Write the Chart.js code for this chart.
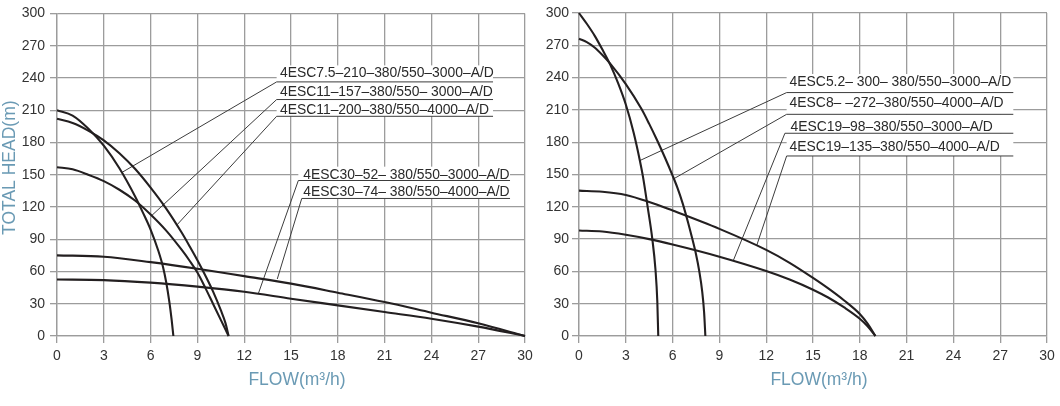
<!DOCTYPE html>
<html><head><meta charset="utf-8">
<script src="https://cdn.jsdelivr.net/npm/chart.js@4/dist/chart.umd.min.js"></script>
<style>
html,body{margin:0;padding:0;background:#fff;}
#wrap{position:relative;width:1060px;height:406px;overflow:hidden;}
canvas{display:block;}
</style></head><body>
<div id="wrap">
<div style="position:absolute;left:0;top:0;width:540px;height:406px"><canvas id="c1" width="540" height="406"></canvas></div>
<div style="position:absolute;left:540px;top:0;width:520px;height:406px"><canvas id="c2" width="520" height="406"></canvas></div>
</div>
<script>
// ---- tick labels ----
const xTicks = [0,3,6,9,12,15,18,21,24,27,30];
const yTicks = [0,30,60,90,120,150,180,210,240,270,300];
const xTitle = 'FLOW(m³/h)';
const yTitle = 'TOTAL HEAD(m)';

// ---- left chart series ----
const leftLabels = ['4ESC7.5–210–380/550–3000–A/D','4ESC11–157–380/550– 3000–A/D','4ESC11–200–380/550–4000–A/D','4ESC30–52– 380/550–3000–A/D','4ESC30–74– 380/550–4000–A/D'];
const flow_75_210 = [0,1,2,3,4,5,5.5,6,6.5,6.8,7,7.2,7.35,7.46];
const head_75_210 = [210,205,193,177,156,130,115,99,79,64,50,32,15,0];
const flow_11_157 = [0,1,2,3,4,5,6,7,8,8.5,9,9.5,10,10.5,11];
const head_11_157 = [157,155,150,144,136,126,113,98,80,70,59,45,30,15,0];
const flow_11_200 = [0,1,2,3,4,5,6,7,8,8.5,9,9.5,10,10.5,10.8,11];
const head_11_200 = [202,198,191,182,170,155.5,138,118.5,96,83.5,70.5,56.5,41.5,24,12,0];
const flow_30 = [0,3,6,9,12,15,18,21,24,27,30];
const head_30_52 = [52.5,52,49.6,45.9,41.2,34.7,28.5,22.3,16.1,8.7,0];
const head_30_74 = [75,73.7,68.7,62.6,55.7,48.7,40.3,31.6,21.7,11.8,0];

// ---- right chart series ----
const rightLabels = ['4ESC5.2– 300– 380/550–3000–A/D','4ESC8– –272–380/550–4000–A/D','4ESC19–98–380/550–3000–A/D','4ESC19–135–380/550–4000–A/D'];
const flow_52_300 = [0,0.5,1,1.5,2,2.5,3,3.5,3.9,4.1,4.4,4.7,4.9,5.02,5.08];
const head_52_300 = [300,290,279,266,252,235,215,189,163,148,120,90,62,32,0];
const flow_8_272 = [0,0.5,1,1.5,2,3,4,4.5,5,5.5,6,6.3,6.65,7,7.25,7.5,7.7,7.9,8.02,8.1];
const head_8_272 = [276,273,268,261,253,234,211,197,182,166,149,138,123,105,91,76,61,41,22,0];
const flow_19 = [0,1.5,3,4.5,6,9,12,13.5,15,16,17,18,18.5,19];
const head_19_98 = [98,97,94,90,85,73.7,60.4,52.5,43,35.5,26.5,16,9,0];
const head_19_135 = [135,134,131,124.5,116.5,99.5,80,68,54,44,33,20.5,11.5,0];

// ---- annotation anchors (data units) ----
const leftAnchors = [
  {tx:14.29, ty:240.5, ux0:14.08, ux1:27.95, uy:236.3, px:4.15, py:152, first:true},
  {tx:14.29, ty:222.9, ux0:14.08, ux1:27.95, uy:219.9, px:6.07, py:112},
  {tx:14.29, ty:206.8, ux0:14.08, ux1:27.95, uy:204.3, px:7.67, py:103},
  {tx:15.79, ty:146.3, ux0:15.47, ux1:29.04, uy:144.6, px:12.9, py:39.2, first:true},
  {tx:15.79, ty:130.0, ux0:15.69, ux1:29.04, uy:127.9, px:14.12, py:53}
];
const rightAnchors = [
  {tx:13.5, ty:232.2, ux0:13.31, ux1:27.84, uy:226.1, px:3.91, py:163, first:true},
  {tx:13.5, ty:212.7, ux0:13.31, ux1:27.84, uy:205.9, px:6.07, py:146},
  {tx:13.56, ty:190.4, ux0:13.2, ux1:27.84, uy:188.3, px:9.89, py:70},
  {tx:13.5, ty:171.8, ux0:13.31, ux1:27.84, uy:167.2, px:11.39, py:84}
];

const FONT = '"Liberation Sans", Arial, Helvetica, sans-serif';
Chart.defaults.font.family = FONT;
const GRID = '#9c9c9c';
const CURVE = '#231f20';
const LEADER = '#3c3c3c';
const TITLE = '#6a9ab4';

function pts(xs, ys){ return xs.map((v,i)=>({x:v, y:ys[i]})); }
function curve(xs, ys){
  return {data: pts(xs, ys), borderColor: CURVE, borderWidth: 2.1, pointRadius: 0,
    cubicInterpolationMode: 'monotone', fill: false, clip: false};
}
function leader(a){
  return {data: [{x:a.px,y:a.py},{x:a.ux0,y:a.uy},{x:a.ux1,y:a.uy}], borderColor: LEADER,
    borderWidth: 1, pointRadius: 0, tension: 0, fill: false};
}

const labelPlugin = {
  id: 'pumpLabels',
  beforeDatasetsDraw(chart, args, opts){
    const {ctx} = chart; const x = chart.scales.x, y = chart.scales.y;
    ctx.save();
    let prevU = null;
    opts.anchors.forEach((a, i) => {
      const bx0 = x.getPixelForValue(a.ux0), bx1 = x.getPixelForValue(a.ux1);
      const by = y.getPixelForValue(a.ty), uy = y.getPixelForValue(a.uy);
      const top = (a.first || prevU === null) ? by - 12 : prevU;
      ctx.fillStyle = '#fff';
      ctx.fillRect(bx0, top, bx1 - bx0, uy - top);
      prevU = uy;
    });
    ctx.font = '13.9px ' + FONT;
    ctx.fillStyle = '#2a2a2a';
    ctx.textBaseline = 'alphabetic';
    ctx.textAlign = 'left';
    opts.anchors.forEach((a, i) => {
      ctx.fillText(opts.texts[i], x.getPixelForValue(a.tx), y.getPixelForValue(a.ty));
    });
    ctx.restore();
  },
  afterDraw(chart, args, opts){
    const {ctx, chartArea: ca} = chart;
    ctx.save();
    ctx.font = '17.5px ' + FONT;
    ctx.fillStyle = TITLE;
    ctx.textAlign = 'center';
    ctx.textBaseline = 'middle';
    ctx.fillText(xTitle, (ca.left + ca.right) / 2 + 6, 380);
    if (opts.showY) {
      ctx.translate(10, (ca.top + ca.bottom) / 2 - 7);
      ctx.rotate(-Math.PI / 2);
      ctx.fillText(yTitle, 0, 0);
    }
    ctx.restore();
  }
};

function makeScales(yWidth, yPad){
  return {
    x: {type:'linear', min:0, max:30,
      afterBuildTicks: s => { s.ticks = xTicks.map(v=>({value:v})); },
      afterFit: s => { s.height = 70; },
      ticks: {color:'#333', font:{size:14}, padding:5, maxRotation:0, autoSkip:false},
      grid: {color: GRID, lineWidth: 1.3, tickLength: 7, drawTicks: true},
      border: {color: GRID, width: 1.3},
      title: {display:false}
    },
    y: {type:'linear', min:0, max:300,
      afterBuildTicks: s => { s.ticks = yTicks.map(v=>({value:v})); },
      afterFit: s => { s.width = yWidth; },
      ticks: {color:'#333', font:{size:14}, padding:yPad, autoSkip:false},
      grid: {color: GRID, lineWidth: 1.3, tickLength: 7, drawTicks: true},
      border: {color: GRID, width: 1.3},
      title: {display:false}
    }
  };
}

function baseOptions(padRight, yWidth, showY, yPad, texts, anchors){
  return {
    responsive: false, animation: false, devicePixelRatio: 1,
    layout: {padding: {left:0, right: padRight, top: 13, bottom: 0}},
    plugins: {legend:{display:false}, tooltip:{enabled:false}, pumpLabels:{texts, anchors, showY}},
    scales: makeScales(yWidth, yPad)
  };
}

new Chart(document.getElementById('c1'), {
  type: 'line',
  data: {datasets: [
    curve(flow_75_210, head_75_210),
    curve(flow_11_157, head_11_157),
    curve(flow_11_200, head_11_200),
    curve(flow_30, head_30_52),
    curve(flow_30, head_30_74),
    ...leftAnchors.map(leader)
  ]},
  options: baseOptions(15, 57, true, 5, leftLabels, leftAnchors),
  plugins: [labelPlugin]
});

new Chart(document.getElementById('c2'), {
  type: 'line',
  data: {datasets: [
    curve(flow_52_300, head_52_300),
    curve(flow_8_272, head_8_272),
    curve(flow_19, head_19_98),
    curve(flow_19, head_19_135),
    ...rightAnchors.map(leader)
  ]},
  options: baseOptions(13, 39, false, 3, rightLabels, rightAnchors),
  plugins: [labelPlugin]
});
</script>
</body></html>
